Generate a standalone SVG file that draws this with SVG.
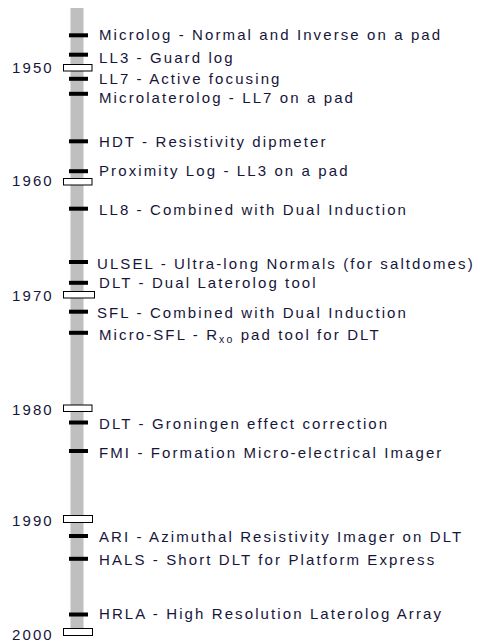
<svg xmlns="http://www.w3.org/2000/svg" width="478" height="643" viewBox="0 0 478 643">
<style>
text{font-family:"Liberation Sans",Arial,sans-serif;font-size:15px;letter-spacing:2.1px;fill:#16163a}
.tick{fill:#000}
.mark{fill:#fff;stroke:#000;stroke-width:1}
.bar{fill:#bfbfbf}
</style>
<rect width="478" height="643" fill="#fff"/>
<g id="axis"><rect class="bar" x="70.5" y="8" width="13" height="624"/></g>
<g id="years">
<g id="y1950"><rect class="mark" x="63.5" y="64.5" width="28.5" height="6.5"/><text x="12" y="73">1950</text></g>
<g id="y1960"><rect class="mark" x="63.5" y="178.5" width="28.5" height="6.5"/><text x="12" y="186">1960</text></g>
<g id="y1970"><rect class="mark" x="63.5" y="291.5" width="31" height="6.5"/><text x="12" y="300.5">1970</text></g>
<g id="y1980"><rect class="mark" x="63.5" y="405" width="28.5" height="6.5"/><text x="12" y="415">1980</text></g>
<g id="y1990"><rect class="mark" x="63.5" y="515.5" width="29" height="7"/><text x="12" y="525.5">1990</text></g>
<g id="y2000"><rect class="mark" x="63.5" y="628.5" width="29" height="7"/><text x="12" y="640">2000</text></g>
</g>
<g id="events">
<g id="microlog"><rect class="tick" x="69" y="33.3" width="19" height="4"/><text x="99" y="39.5">Microlog - Normal and Inverse on a pad</text></g>
<g id="ll3"><rect class="tick" x="69" y="52.7" width="19" height="4"/><text x="99" y="62.5">LL3 - Guard log</text></g>
<g id="ll7"><rect class="tick" x="69" y="76.8" width="19" height="4"/><text x="99" y="84">LL7 - Active focusing</text></g>
<g id="microlaterolog"><rect class="tick" x="69" y="91.8" width="19" height="4"/><text x="99" y="102.5">Microlaterolog - LL7 on a pad</text></g>
<g id="hdt"><rect class="tick" x="69" y="139.3" width="19" height="4"/><text x="99" y="146.5">HDT - Resistivity dipmeter</text></g>
<g id="proximity"><rect class="tick" x="69" y="169.2" width="19" height="4"/><text x="99" y="176">Proximity Log - LL3 on a pad</text></g>
<g id="ll8"><rect class="tick" x="69" y="206.7" width="19" height="4"/><text x="99" y="215">LL8 - Combined with Dual Induction</text></g>
<g id="ulsel"><rect class="tick" x="69" y="260" width="19" height="4"/><text x="97" y="269">ULSEL - Ultra-long Normals (for saltdomes)</text></g>
<g id="dlt"><rect class="tick" x="69" y="280.8" width="19" height="4"/><text x="99" y="288">DLT - Dual Laterolog tool</text></g>
<g id="sfl"><rect class="tick" x="69" y="309.7" width="19" height="4"/><text x="97" y="318">SFL - Combined with Dual Induction</text></g>
<g id="microsfl"><rect class="tick" x="69" y="330.8" width="19" height="4"/><text x="99" y="339.5">Micro-SFL - R<tspan font-size="10.5" dy="3">xo</tspan><tspan dy="-3"> pad tool for DLT</tspan></text></g>
<g id="dltgroningen"><rect class="tick" x="69" y="420.5" width="19" height="4"/><text x="99" y="429">DLT - Groningen effect correction</text></g>
<g id="fmi"><rect class="tick" x="69" y="449" width="19" height="4"/><text x="99" y="458">FMI - Formation Micro-electrical Imager</text></g>
<g id="ari"><rect class="tick" x="69" y="534" width="19" height="4"/><text x="99" y="541.5">ARI - Azimuthal Resistivity Imager on DLT</text></g>
<g id="hals"><rect class="tick" x="69" y="556.8" width="19" height="4"/><text x="99" y="565">HALS - Short DLT for Platform Express</text></g>
<g id="hrla"><rect class="tick" x="69" y="612.5" width="19" height="4"/><text x="99" y="619">HRLA - High Resolution Laterolog Array</text></g>
</g>
<g id="connectors"/>
</svg>
